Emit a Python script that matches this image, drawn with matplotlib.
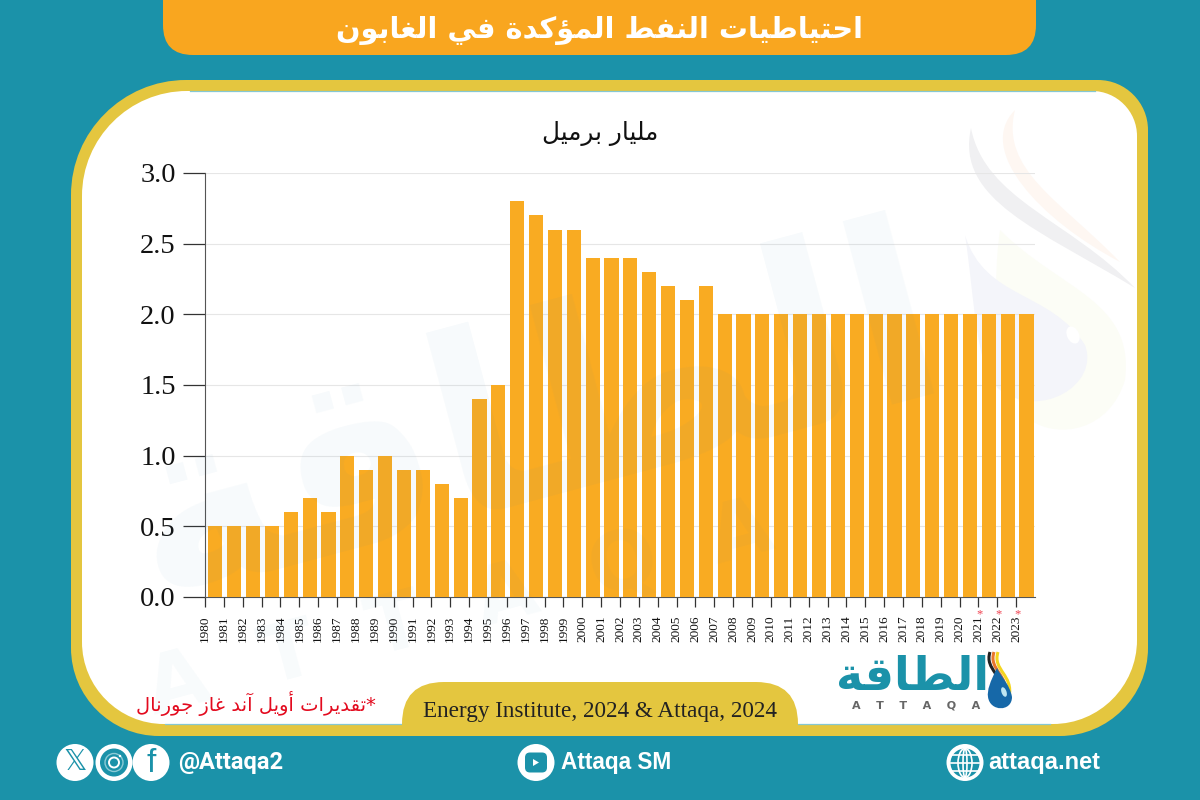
import matplotlib
matplotlib.use('Agg')
import matplotlib.pyplot as plt
from matplotlib.patches import FancyBboxPatch, Circle, Ellipse, Rectangle, PathPatch, Polygon
from matplotlib.path import Path

TEAL = '#1B92A9'
ORANGE = '#F9A61F'
YELLOW = '#E4C63F'
BAR = '#F9AB22'

years = list(range(1980, 2024))
reserves = [0.5, 0.5, 0.5, 0.5, 0.6, 0.7, 0.6, 1.0, 0.9, 1.0, 0.9, 0.9, 0.8, 0.7,
            1.4, 1.5, 2.8, 2.7, 2.6, 2.6, 2.4, 2.4, 2.4, 2.3, 2.2, 2.1, 2.2,
            2.0, 2.0, 2.0, 2.0, 2.0, 2.0, 2.0, 2.0, 2.0, 2.0, 2.0, 2.0, 2.0, 2.0, 2.0, 2.0, 2.0]
estimated_years = [2021, 2022, 2023]
y_ticks = [0.0, 0.5, 1.0, 1.5, 2.0, 2.5, 3.0]

title_text = 'احتياطيات النفط المؤكدة في الغابون'
unit_text = 'مليار برميل'
note_text = '*تقديرات أويل آند غاز جورنال'
logo_text = 'الطاقة'
source_text = 'Energy Institute, 2024 & Attaqa, 2024'

# matplotlib does not shape arabic, so pick the joined forms here (iso, final, init, medial)
FORMS = {
    'ا': 'ﺍﺎ', 'أ': 'ﺃﺄ', 'آ': 'ﺁﺂ', 'د': 'ﺩﺪ', 'ر': 'ﺭﺮ', 'و': 'ﻭﻮ', 'ؤ': 'ﺅﺆ', 'ة': 'ﺓﺔ',
    'ب': 'ﺏﺐﺑﺒ', 'ت': 'ﺕﺖﺗﺘ', 'ج': 'ﺝﺞﺟﺠ', 'ح': 'ﺡﺢﺣﺤ', 'ز': 'ﺯﺰ', 'ط': 'ﻁﻂﻃﻄ',
    'غ': 'ﻍﻎﻏﻐ', 'ف': 'ﻑﻒﻓﻔ', 'ق': 'ﻕﻖﻗﻘ', 'ك': 'ﻙﻚﻛﻜ', 'ل': 'ﻝﻞﻟﻠ', 'م': 'ﻡﻢﻣﻤ',
    'ن': 'ﻥﻦﻧﻨ', 'ي': 'ﻱﻲﻳﻴ',
}


def shape(text):
    out = []
    for i, c in enumerate(text):
        if c not in FORMS:
            out.append(c)
            continue
        prev = text[i - 1] if i > 0 else ''
        nxt = text[i + 1] if i + 1 < len(text) else ''
        joins_prev = prev in FORMS and len(FORMS[prev]) == 4
        joins_next = nxt in FORMS and len(FORMS[c]) == 4
        forms = FORMS[c]
        if joins_prev and joins_next:
            out.append(forms[3])
        elif joins_next:
            out.append(forms[2])
        elif joins_prev:
            out.append(forms[1])
        else:
            out.append(forms[0])
    return ''.join(out)[::-1]


fig = plt.figure(figsize=(12, 8), dpi=100, facecolor=TEAL)

# whole figure in pixels for the frame and the decoration
bg = fig.add_axes([0, 0, 1, 1], zorder=0)
bg.set_xlim(0, 1200)
bg.set_ylim(800, 0)
bg.axis('off')


def rbox(x0, y0, x1, y1, r, color, z=1):
    p = FancyBboxPatch((x0, y0), x1 - x0, y1 - y0, boxstyle=f'round,pad=0,rounding_size={r}',
                       fc=color, ec='none', zorder=z)
    bg.add_patch(p)
    return p


# frame corners are not all the same, radii go tl, tr, br, bl
def corners(x0, y0, x1, y1, radii, color, z=1):
    tl, tr, br, bl = radii
    k = 0.45
    verts = [(x0 + tl, y0), (x1 - tr, y0),
             (x1 - tr * k, y0), (x1, y0 + tr * k), (x1, y0 + tr), (x1, y1 - br),
             (x1, y1 - br * k), (x1 - br * k, y1), (x1 - br, y1), (x0 + bl, y1),
             (x0 + bl * k, y1), (x0, y1 - bl * k), (x0, y1 - bl), (x0, y0 + tl),
             (x0, y0 + tl * k), (x0 + tl * k, y0), (x0 + tl, y0)]
    codes = [Path.MOVETO, Path.LINETO,
             Path.CURVE4, Path.CURVE4, Path.CURVE4, Path.LINETO,
             Path.CURVE4, Path.CURVE4, Path.CURVE4, Path.LINETO,
             Path.CURVE4, Path.CURVE4, Path.CURVE4, Path.LINETO,
             Path.CURVE4, Path.CURVE4, Path.CURVE4]
    bg.add_patch(PathPatch(Path(verts, codes), fc=color, ec='none', zorder=z))


rbox(163, -50, 1036, 55, 30, ORANGE)
bg.text(600, 30, shape(title_text), color='white', fontsize=20.8, fontweight='bold',
        family='DejaVu Sans', ha='center', va='center', zorder=3)

corners(71, 80, 1148, 736, (115, 50, 88, 88), YELLOW)
corners(82, 91, 1137, 724, (105, 45, 84, 82), 'white', 2)
bg.plot([190, 1095], [90.8, 90.8], color='#86C8D2', lw=0.9, zorder=3)
bg.plot([165, 1050], [724, 724], color='#86C8D2', lw=0.9, zorder=3)

# faint drop and swoosh of the watermark on the right
halo = Path([(1000, 230), (1060, 290), (1135, 300), (1125, 380), (1110, 430), (1060, 440), (1030, 420),
             (1000, 380), (990, 300), (1000, 230)],
            [Path.MOVETO, Path.CURVE4, Path.CURVE4, Path.CURVE4, Path.CURVE4, Path.CURVE4, Path.CURVE4,
             Path.CURVE4, Path.CURVE4, Path.CURVE4])
bg.add_patch(PathPatch(halo, fc='#FCFDF6', ec='none', zorder=2.05))
drop = Path([(965, 235), (985, 300), (1050, 290), (1085, 345), (1100, 385), (1040, 420), (1000, 390),
             (975, 370), (975, 300), (965, 235)],
            [Path.MOVETO, Path.CURVE4, Path.CURVE4, Path.CURVE4, Path.CURVE4, Path.CURVE4, Path.CURVE4,
             Path.CURVE4, Path.CURVE4, Path.CURVE4])
bg.add_patch(PathPatch(drop, fc='#F4F5FA', ec='none', zorder=2.1))
swoosh = Path([(971, 128), (955, 200), (1040, 230), (1135, 288), (1070, 220), (985, 200), (971, 128)],
              [Path.MOVETO, Path.CURVE4, Path.CURVE4, Path.CURVE4, Path.CURVE4, Path.CURVE4, Path.CURVE4])
bg.add_patch(PathPatch(swoosh, fc='#F0F0F2', ec='none', zorder=2.1))
swoosh2 = Path([(1015, 110), (975, 150), (1040, 220), (1120, 262), (1060, 200), (1000, 170), (1015, 110)],
               [Path.MOVETO, Path.CURVE4, Path.CURVE4, Path.CURVE4, Path.CURVE4, Path.CURVE4, Path.CURVE4])
bg.add_patch(PathPatch(swoosh2, fc='#FEF7F2', ec='none', zorder=2.1))
bg.add_patch(Ellipse((1073, 335), 12, 18, angle=-25, fc='white', ec='none', zorder=2.2))

# the chart itself
ax = fig.add_axes([205 / 1200, 1 - 597 / 800, 830 / 1200, 424 / 800], zorder=2)
ax.patch.set_alpha(0)
x = list(range(len(years)))
ax.bar(x, reserves, width=0.75, color=BAR, zorder=3)
ax.set_xlim(-0.55, len(years) - 0.55)
ax.set_ylim(0, 3)
ax.set_yticks(y_ticks)
ax.set_yticklabels([f'{v:.1f}' for v in y_ticks], fontsize=20.5, family='Liberation Serif', color='#111111')
ax.set_xticks([i - 0.55 for i in x])
ax.set_xticklabels(years, rotation=90, fontsize=9.5, family='Liberation Serif', color='#111111')
ax.tick_params(axis='y', length=16, width=0.9, color='#333333', pad=5)
ax.tick_params(axis='x', length=7.5, width=0.9, color='#333333', pad=6)
ax.grid(axis='y', color='#E6E6E6', lw=0.8, zorder=0)
ax.set_axisbelow(True)
for s in ['top', 'right']:
    ax.spines[s].set_visible(False)
ax.spines['left'].set_color('#555555')
ax.spines['bottom'].set_color('#555555')
for yr in estimated_years:
    ax.text(years.index(yr) - 0.5, -0.042, '*', color='#F0414F', fontsize=9, ha='center', va='center',
            transform=ax.get_xaxis_transform(), family='Liberation Serif', clip_on=False)

# overlay drawn on top so the watermark also tints the bars
top = fig.add_axes([0, 0, 1, 1], zorder=3)
top.set_xlim(0, 1200)
top.set_ylim(800, 0)
top.axis('off')
top.text(535, 425, shape(logo_text), fontsize=180, fontweight='bold', family='DejaVu Sans', color='#3F86B5',
         alpha=0.045, rotation=15, ha='center', va='center', rotation_mode='anchor')
top.text(460, 610, 'A  T  T  A  Q  A', fontsize=58, fontweight='bold', family='DejaVu Sans', color='#3F86B5',
         alpha=0.035, rotation=15, ha='center', va='center', rotation_mode='anchor')

bg.text(600, 133, shape(unit_text), fontsize=17.8, family='DejaVu Sans', color='#111111',
        ha='center', va='center', zorder=4)

# note, source tab
top.text(256, 703, shape(note_text), fontsize=14, family='DejaVu Sans', color='#E30A1E', ha='center', va='center')
tab = rbox(402, 682, 798, 790, 42, YELLOW, 3)
tab.set_clip_path(Rectangle((395, 675), 410, 55, transform=bg.transData))
top.text(600, 712, source_text, fontsize=16.7, family='Liberation Serif', color='#222222', ha='center', va='center')

# logo
top.text(913, 677, shape(logo_text), fontsize=33, fontweight='bold', family='DejaVu Sans', color=TEAL,
         ha='center', va='center')
top.text(916, 705, 'A    T    T    A    Q    A', fontsize=8, fontweight='bold', family='DejaVu Sans', color='#666666',
         ha='center', va='center')
logo_streaks = [('#F4D51F', 1002), ('#E8762C', 998), ('#222222', 994)]
for c, x0 in logo_streaks:
    streak = Path([(x0 - 4, 652), (x0 - 10, 670), (x0 + 12, 675), (x0 + 7, 697)],
                  [Path.MOVETO, Path.CURVE4, Path.CURVE4, Path.CURVE4])
    top.add_patch(PathPatch(streak, fc='none', ec=c, lw=2.2))
logo_drop = Path([(997, 668), (990, 682), (987, 690), (988, 697), (990, 712), (1012, 712), (1012, 697),
                  (1010, 685), (1002, 678), (997, 668)],
                 [Path.MOVETO, Path.CURVE4, Path.CURVE4, Path.CURVE4, Path.CURVE4, Path.CURVE4, Path.CURVE4,
                  Path.CURVE4, Path.CURVE4, Path.CURVE4])
top.add_patch(PathPatch(logo_drop, fc='#1668A8', ec='none'))
top.add_patch(Ellipse((1004, 692), 5, 10, angle=-20, fc='#BFE6F2', ec='none'))

# footer icons and handles
for cx in [75, 114, 151, 536, 965]:
    top.add_patch(Circle((cx, 762.5), 18.5, fc='white', ec='none'))
top.text(75, 762, '\U0001D54F', fontsize=21, color=TEAL, family='DejaVu Sans', ha='center', va='center')
top.add_patch(Circle((114, 762.5), 14, fc=TEAL, ec='none'))
top.add_patch(Circle((114, 762.5), 9, fc='none', ec='#8CCBD6', lw=1.0))
top.add_patch(Circle((114, 762.5), 5, fc='none', ec='white', lw=1.4))
top.add_patch(Circle((120, 756), 1.2, fc='white', ec='none'))
top.text(151, 764, 'f', fontsize=24, color=TEAL, family='Liberation Sans', ha='center', va='center')
top.add_patch(FancyBboxPatch((525, 752.5), 22, 20, boxstyle='round,pad=0,rounding_size=5', fc=TEAL, ec='none'))
top.add_patch(Polygon([(533, 759), (533, 766), (539, 762.5)], closed=True, fc='white', ec='none'))
top.add_patch(Circle((965, 763), 14.5, fc=TEAL, ec='none'))
top.add_patch(Ellipse((965, 763), 14, 29, fc='none', ec='white', lw=1.2))
top.add_patch(Ellipse((965, 763), 4, 29, fc='none', ec='white', lw=1.2))
for yy in [755, 763, 771]:
    top.plot([951, 979], [yy, yy], color='white', lw=1.2)
top.text(178, 763, '@Attaqa2', fontsize=17, fontweight='bold', family='Roboto', color='white', va='center')
top.text(561, 763, 'Attaqa SM', fontsize=16.3, fontweight='bold', family='Liberation Sans', color='white', va='center')
top.text(988, 763, 'attaqa.net', fontsize=17, fontweight='bold', family='Liberation Sans', color='white', va='center')

fig.savefig('out.png', dpi=100, facecolor=TEAL)
